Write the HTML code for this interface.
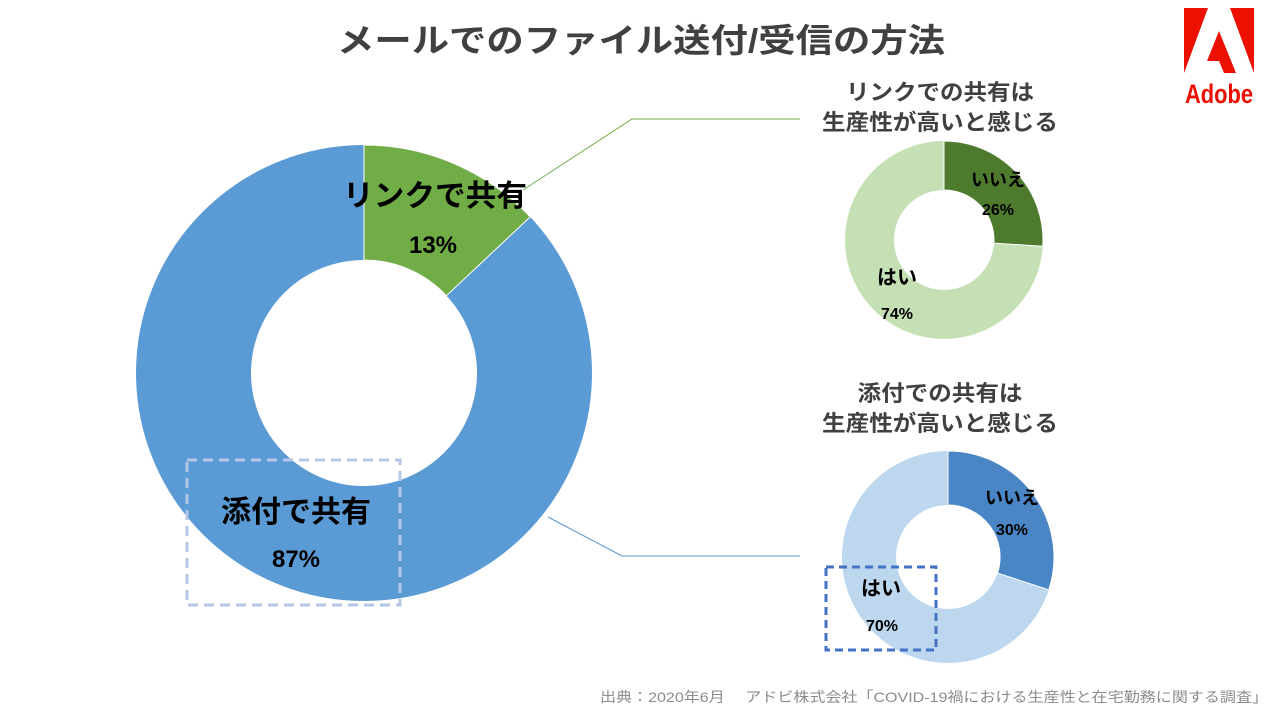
<!DOCTYPE html>
<html><head><meta charset="utf-8"><style>
html,body{margin:0;padding:0;background:#fff;}
svg{display:block;font-family:"Liberation Sans","Noto Sans CJK JP",sans-serif;font-weight:bold;}
</style></head><body>
<svg width="1280" height="720" viewBox="0 0 1280 720">
<rect width="1280" height="720" fill="#fff"/>
<text x="641" y="52" text-anchor="middle" font-size="33" fill="#404040" textLength="608" lengthAdjust="spacingAndGlyphs">メールでのファイル送付/受信の方法</text>
<!-- Adobe logo -->
<polygon points="1184,8 1208,8 1184,73" fill="#EB1000"/>
<polygon points="1230,8 1254,8 1254,73" fill="#EB1000"/>
<polygon points="1219,31 1236,73 1224,73 1219,61 1207,61" fill="#EB1000"/>
<text x="1219" y="103" text-anchor="middle" font-size="27" fill="#EB1000" textLength="68" lengthAdjust="spacingAndGlyphs">Adobe</text>
<!-- main donut -->
<circle cx="364" cy="373" r="170.5" fill="none" stroke="#5B9BD5" stroke-width="115"/>
<path d="M364,145 A228,228 0 0 1 530.2,216.9 L446.4,295.7 A113,113 0 0 0 364,260 Z" fill="#70AD47" stroke="#fff" stroke-width="1"/>
<text x="435" y="206" text-anchor="middle" font-size="30" fill="#000" textLength="184" lengthAdjust="spacingAndGlyphs">リンクで共有</text>
<text x="433" y="253" text-anchor="middle" font-size="24" fill="#000">13%</text>
<text x="296" y="522" text-anchor="middle" font-size="30" fill="#000">添付で共有</text>
<text x="296" y="567" text-anchor="middle" font-size="24" fill="#000">87%</text>
<rect x="187" y="460" width="213" height="145" fill="none" stroke="#B4C7E7" stroke-width="3" stroke-dasharray="10,6"/>
<!-- leader lines -->
<polyline points="523,190 632,119 800,119" fill="none" stroke="#70AD47" stroke-width="1"/>
<polyline points="548,517 622,556 800,556" fill="none" stroke="#5B9BD5" stroke-width="1"/>
<!-- small donut 1 -->
<text x="940" y="100" text-anchor="middle" font-size="22" fill="#404040" textLength="188" lengthAdjust="spacingAndGlyphs">リンクでの共有は</text>
<text x="940" y="130" text-anchor="middle" font-size="22" fill="#404040" textLength="236" lengthAdjust="spacingAndGlyphs">生産性が高いと感じる</text>
<circle cx="944" cy="240" r="74.5" fill="none" stroke="#C5E0B4" stroke-width="49"/>
<path d="M944,141 A99,99 0 0 1 1042.8,246.2 L993.9,243.1 A50,50 0 0 0 944,190 Z" fill="#4E7A2E" stroke="#fff" stroke-width="1"/>
<text x="998" y="186" text-anchor="middle" font-size="18" fill="#000">いいえ</text>
<text x="998" y="215" text-anchor="middle" font-size="16" fill="#000">26%</text>
<text x="897" y="284" text-anchor="middle" font-size="20" fill="#000">はい</text>
<text x="897" y="319" text-anchor="middle" font-size="16" fill="#000">74%</text>
<!-- small donut 2 -->
<text x="940" y="401" text-anchor="middle" font-size="22" fill="#404040" textLength="165" lengthAdjust="spacingAndGlyphs">添付での共有は</text>
<text x="940" y="431" text-anchor="middle" font-size="22" fill="#404040" textLength="236" lengthAdjust="spacingAndGlyphs">生産性が高いと感じる</text>
<circle cx="948" cy="557" r="79" fill="none" stroke="#BDD7EE" stroke-width="54"/>
<path d="M948,451 A106,106 0 0 1 1048.8,589.8 L997.5,573.1 A52,52 0 0 0 948,505 Z" fill="#4A86C5" stroke="#fff" stroke-width="1"/>
<text x="1012" y="504" text-anchor="middle" font-size="18" fill="#000">いいえ</text>
<text x="1012" y="535" text-anchor="middle" font-size="16" fill="#000">30%</text>
<text x="881" y="595" text-anchor="middle" font-size="20" fill="#000">はい</text>
<text x="882" y="631" text-anchor="middle" font-size="16" fill="#000">70%</text>
<rect x="826" y="567" width="110" height="83" fill="none" stroke="#4472C4" stroke-width="3" stroke-dasharray="8,5"/>
<!-- footer -->
<text x="600" y="702" font-size="14" fill="#8c8c8c" style="font-weight:normal" textLength="668" lengthAdjust="spacingAndGlyphs">出典：2020年6月　 アドビ株式会社「COVID-19禍における生産性と在宅勤務に関する調査」</text>
</svg>
</body></html>
